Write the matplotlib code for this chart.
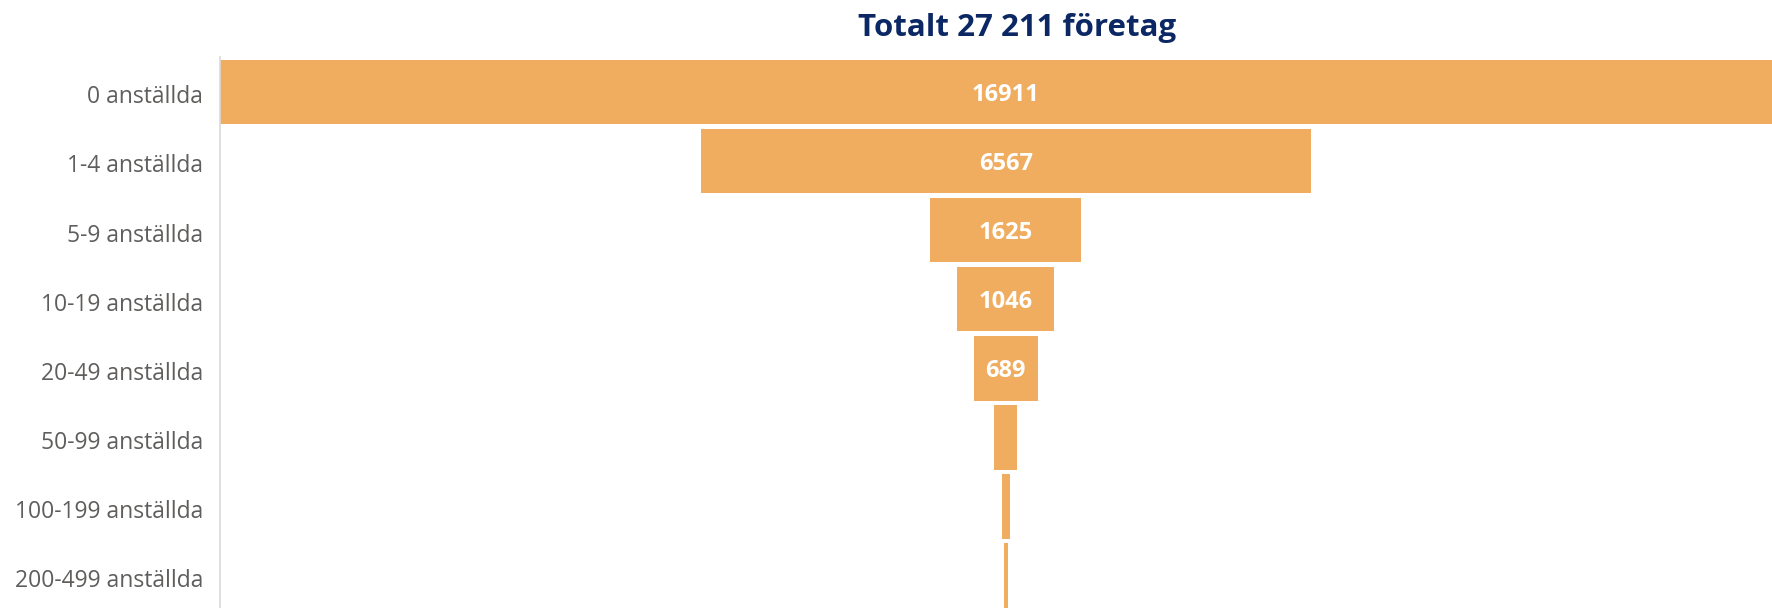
import matplotlib
matplotlib.use('Agg')
import matplotlib.pyplot as plt
from matplotlib.transforms import ScaledTranslation

# Data
categories = ['0 anställda', '1-4 anställda', '5-9 anställda', '10-19 anställda',
              '20-49 anställda', '50-99 anställda', '100-199 anställda', '200-499 anställda']
values = [16911, 6567, 1625, 1046, 689, 246, 84, 43]
title = 'Totalt 27 211 företag'

bar_color = '#F0AD5F'
plt.rcParams['font.family'] = ['Open Sans', 'DejaVu Sans']

W, H = 1772, 608
fig = plt.figure(figsize=(W / 100, H / 100), dpi=100)

# axes placed in pixels; the funnel is cropped on the right and bottom like the original
left_px, right_px = 219.7, 1792.0
top_px, bottom_px = 57.3, 610.1
ax = fig.add_axes([left_px / W, 1 - bottom_px / H,
                   (right_px - left_px) / W, (bottom_px - top_px) / H])

y = list(range(len(values)))
ax.barh(y, values, left=[-v / 2 for v in values], height=0.935,
        color=bar_color, edgecolor='none')

for i, v in enumerate(values):
    if v >= 500:
        ax.text(0, i, str(v), ha='center', va='center_baseline', color='white',
                fontsize=17, fontweight='bold')

mx = max(values)
ax.set_xlim(-mx / 2, mx / 2)
ax.set_ylim(len(values) - 0.5, -0.5)

ax.set_yticks(y)
ax.set_yticklabels(categories, fontsize=16.5, color='#605E5C')
ax.tick_params(axis='y', length=0, pad=12)
ax.set_xticks([])
# nudge the category labels down a little
shift = ScaledTranslation(0, -2.5 / 100, fig.dpi_scale_trans)
for lab in ax.get_yticklabels():
    lab.set_transform(lab.get_transform() + shift)

for s in ['top', 'right', 'bottom']:
    ax.spines[s].set_visible(False)
ax.spines['left'].set_color('#D9D9D9')
ax.spines['left'].set_linewidth(1.2)

fig.text(1017 / W, 1 - 36 / H, title, ha='center', va='baseline',
         fontsize=22.5, fontweight='bold', color='#0C2864')

fig.savefig('out.png', dpi=100)
